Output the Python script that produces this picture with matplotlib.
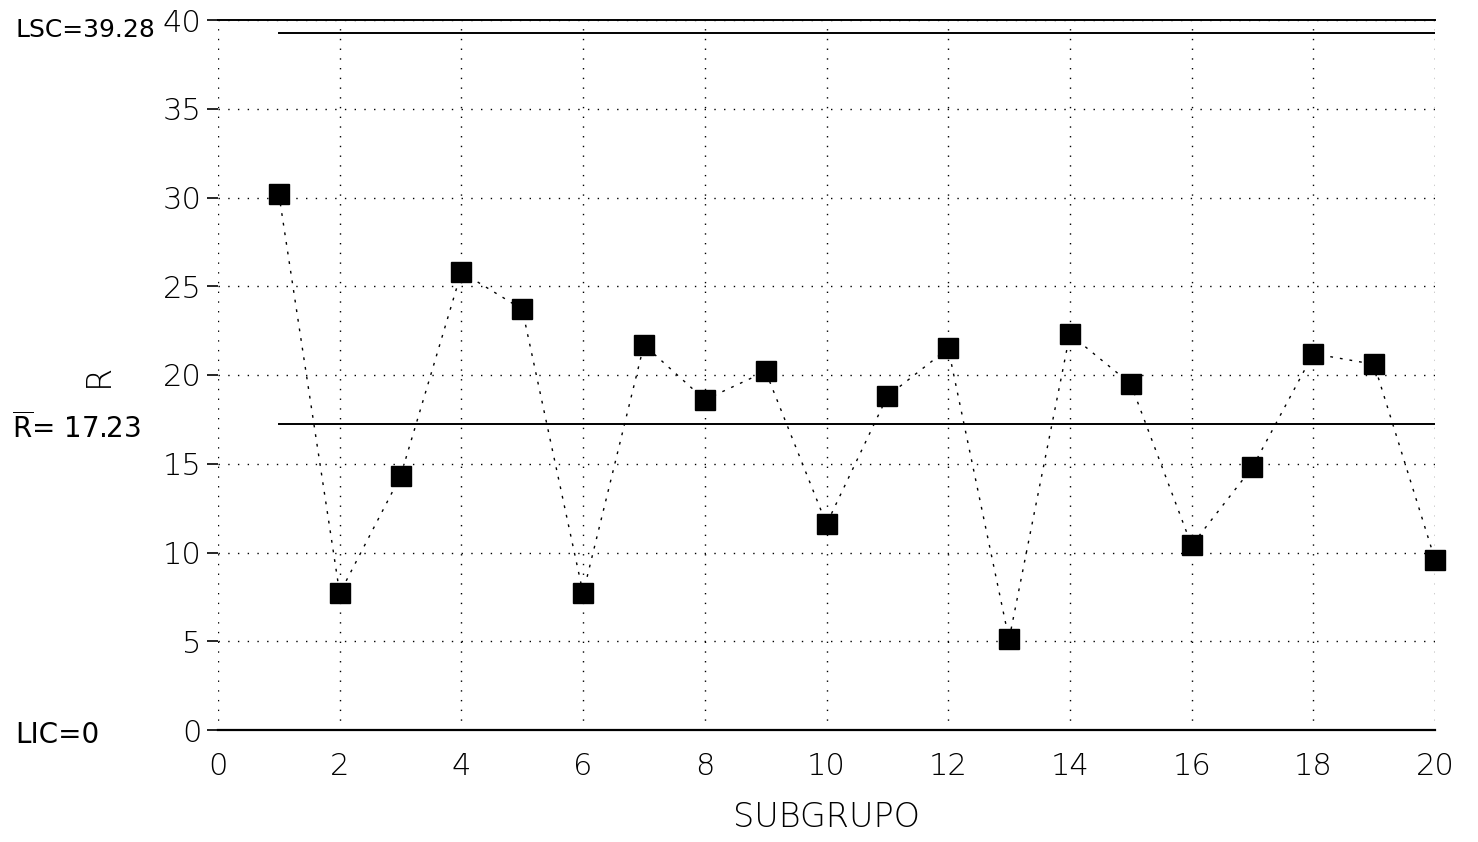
import matplotlib
matplotlib.use("Agg")
import matplotlib.pyplot as plt

subgroups = list(range(1, 21))
ranges = [30.2, 7.7, 14.3, 25.8, 23.7, 7.7, 21.7, 18.6, 20.2, 11.6,
          18.8, 21.5, 5.1, 22.3, 19.5, 10.4, 14.8, 21.2, 20.6, 9.6]
ucl = 39.28
center = 17.23
lcl = 0.0
x_ticks = list(range(0, 21, 2))
y_ticks = list(range(0, 41, 5))

plt.rcParams['font.family'] = ['DejaVu Sans']

fig = plt.figure(figsize=(14.78, 8.42), dpi=100)
ax = fig.add_axes([218/1478, 1 - 730/842, (1435 - 218)/1478, (730 - 20)/842])

ax.set_xlim(0, 20)
ax.set_ylim(0, 40)

ax.grid(True, linestyle=(0, (1, 6)), color='black', linewidth=1.0)
ax.set_axisbelow(True)

# control limit lines
ax.plot([1, 20], [ucl, ucl], color='black', linewidth=1.4)
ax.plot([1, 20], [center, center], color='black', linewidth=1.4)
ax.plot([0, 20], [40, 40], color='black', linewidth=1.4, clip_on=False)

ax.plot(subgroups, ranges, color='black', linestyle=(0, (2, 5)), linewidth=1.0,
        marker='s', markersize=14, markerfacecolor='black',
        markeredgecolor='black', clip_on=False, zorder=3)

for s in ['top', 'right', 'left']:
    ax.spines[s].set_visible(False)
ax.spines['bottom'].set_linewidth(1.6)

ax.set_xticks(x_ticks)
ax.set_yticks(y_ticks)
ax.tick_params(axis='y', direction='out', length=8, width=1.2, labelsize=22, pad=4)
ax.tick_params(axis='x', direction='out', length=0, labelsize=22, pad=16)
for lbl in ax.get_xticklabels() + ax.get_yticklabels():
    lbl.set_fontweight('light')

ax.set_xlabel('SUBGRUPO', fontsize=24, labelpad=14, fontweight='light')
ax.set_ylabel('R', fontsize=24, labelpad=34, fontweight='light')

fig.text(15/1478, 1 - 30/842, 'LSC=39.28', fontsize=18, va='center', ha='left')
fig.text(12/1478, 1 - 428/842, r'$\overline{\mathrm{R}}$= 17.23', fontsize=20, va='center', ha='left')
fig.text(15/1478, 1 - 735/842, 'LIC=0', fontsize=20, va='center', ha='left')

fig.savefig('out.png', dpi=100)
